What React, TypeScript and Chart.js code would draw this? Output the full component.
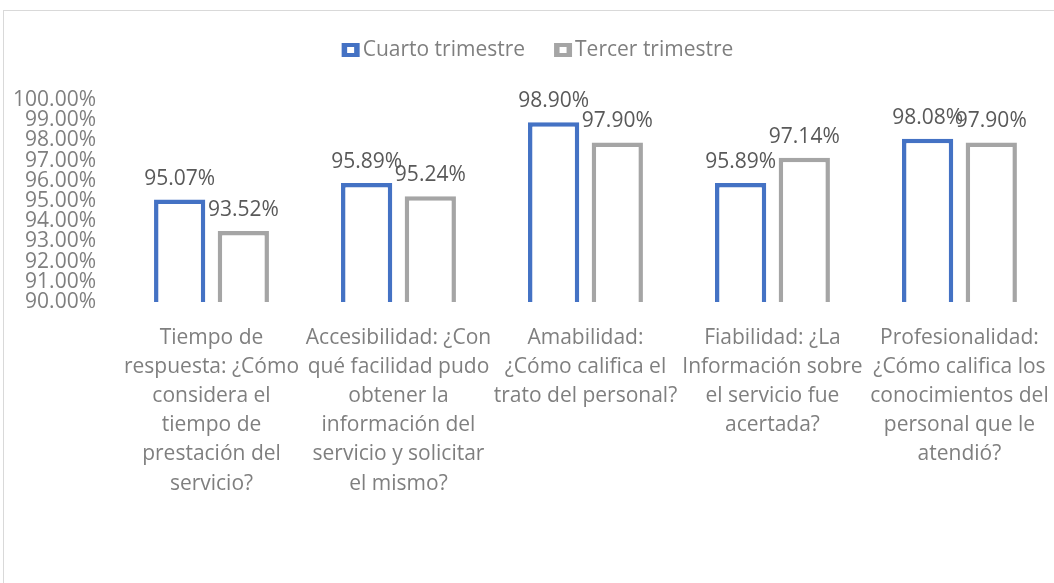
import React, { useEffect, useRef } from "react";
import { Chart, registerables } from "chart.js";

Chart.register(...registerables);

const categories: string[][] = [
  ["Tiempo de", "respuesta: ¿Cómo", "considera el", "tiempo de", "prestación del", "servicio?"],
  ["Accesibilidad: ¿Con", "qué facilidad pudo", "obtener la", "información del", "servicio y solicitar", "el mismo?"],
  ["Amabilidad:", "¿Cómo califica el", "trato del personal?"],
  ["Fiabilidad: ¿La", "Información sobre", "el servicio fue", "acertada?"],
  ["Profesionalidad:", "¿Cómo califica los", "conocimientos del", "personal que le", "atendió?"],
];
const seriesNames: string[] = ["Cuarto trimestre", "Tercer trimestre"];
const cuartoTrimestre: number[] = [95.07, 95.89, 98.9, 95.89, 98.08];
const tercerTrimestre: number[] = [93.52, 95.24, 97.9, 97.14, 97.9];
const yMin = 90;
const yMax = 100;
const yStep = 1;

const FONT = "'Open Sans', sans-serif";
const W = 1067;
const H = 588;
const PLOT_TOP = 89;
const PLOT_BOTTOM = 291;
const PLOT_LEFT = 114;
const PLOT_RIGHT = 1054;

const dataLabelPlugin = {
  id: "dataLabels",
  afterDatasetsDraw(chart: any) {
    const ctx = chart.ctx;
    ctx.save();
    ctx.font = `21px ${FONT}`;
    ctx.fillStyle = "#595959";
    ctx.textAlign = "center";
    ctx.textBaseline = "middle";
    chart.data.datasets.forEach((ds: any, i: number) => {
      const meta = chart.getDatasetMeta(i);
      meta.data.forEach((el: any, j: number) => {
        const v = ds.data[j] as number;
        ctx.fillText(v.toFixed(2) + "%", el.x, el.y - 21);
      });
    });
    ctx.restore();
  },
};

const legendPlugin = {
  id: "customLegend",
  afterDraw(chart: any) {
    const ctx = chart.ctx;
    ctx.save();
    ctx.font = `21px ${FONT}`;
    const boxW = 18;
    const boxH = 14;
    const gap = 3;
    const spacing = 29;
    const items = chart.data.datasets.map((ds: any) => ({
      label: ds.label,
      color: ds.borderColor,
      w: ctx.measureText(ds.label).width,
    }));
    const total =
      items.reduce((s: number, it: any) => s + boxW + gap + it.w, 0) + spacing * (items.length - 1);
    let x = (chart.width - total) / 2;
    const cy = 39;
    items.forEach((it: any) => {
      ctx.fillStyle = it.color;
      ctx.fillRect(x, cy - boxH / 2, boxW, boxH);
      ctx.fillStyle = "#ffffff";
      ctx.fillRect(x + (boxW - 7) / 2, cy - 3, 7, 6);
      x += boxW + gap;
      ctx.fillStyle = "#7f7f7f";
      ctx.textBaseline = "middle";
      ctx.textAlign = "left";
      ctx.fillText(it.label, x, cy);
      x += it.w + spacing;
    });
    ctx.restore();
  },
};

export default function App() {
  const ref = useRef<HTMLCanvasElement | null>(null);

  useEffect(() => {
    if (!ref.current) return;
    const chart = new Chart(ref.current, {
      type: "bar",
      data: {
        labels: categories,
        datasets: [
          {
            label: seriesNames[0],
            data: cuartoTrimestre,
            backgroundColor: "#ffffff",
            borderColor: "#4472C4",
            borderWidth: 4.5,
            borderSkipped: false,
            categoryPercentage: 0.681,
            barPercentage: 0.805,
          },
          {
            label: seriesNames[1],
            data: tercerTrimestre,
            backgroundColor: "#ffffff",
            borderColor: "#A5A5A5",
            borderWidth: 4.5,
            borderSkipped: false,
            categoryPercentage: 0.681,
            barPercentage: 0.805,
          },
        ],
      },
      options: {
        responsive: false,
        animation: false,
        layout: { padding: { top: PLOT_TOP, left: 0, right: W - PLOT_RIGHT, bottom: 0 } },
        plugins: {
          legend: { display: false },
          tooltip: { enabled: false },
          title: { display: false },
        },
        scales: {
          x: {
            grid: { display: false, drawTicks: false },
            border: { display: false },
            ticks: {
              autoSkip: false,
              maxRotation: 0,
              minRotation: 0,
              padding: 21,
              color: "#7f7f7f",
              font: { family: FONT, size: 21, lineHeight: 1.39 },
            },
            afterFit(scale: any) {
              scale.height = H - PLOT_BOTTOM;
            },
          },
          y: {
            min: yMin,
            max: yMax,
            grid: { display: false, drawTicks: false },
            border: { display: false },
            ticks: {
              stepSize: yStep,
              autoSkip: false,
              padding: 22,
              color: "#7f7f7f",
              font: { family: FONT, size: 21, lineHeight: 1 },
              callback: (v: any) => Number(v).toFixed(2) + "%",
            },
            afterFit(scale: any) {
              scale.width = PLOT_LEFT;
            },
          },
        },
      },
      plugins: [dataLabelPlugin, legendPlugin],
    });
    return () => chart.destroy();
  }, []);

  return (
    <div
      style={{
        position: "absolute",
        left: 3,
        top: 10,
        width: W + 2,
        height: H + 2,
        border: "1px solid #d9d9d9",
        boxSizing: "border-box",
        background: "#ffffff",
      }}
    >
      <canvas ref={ref} width={W} height={H} style={{ display: "block", width: W, height: H }} />
    </div>
  );
}
